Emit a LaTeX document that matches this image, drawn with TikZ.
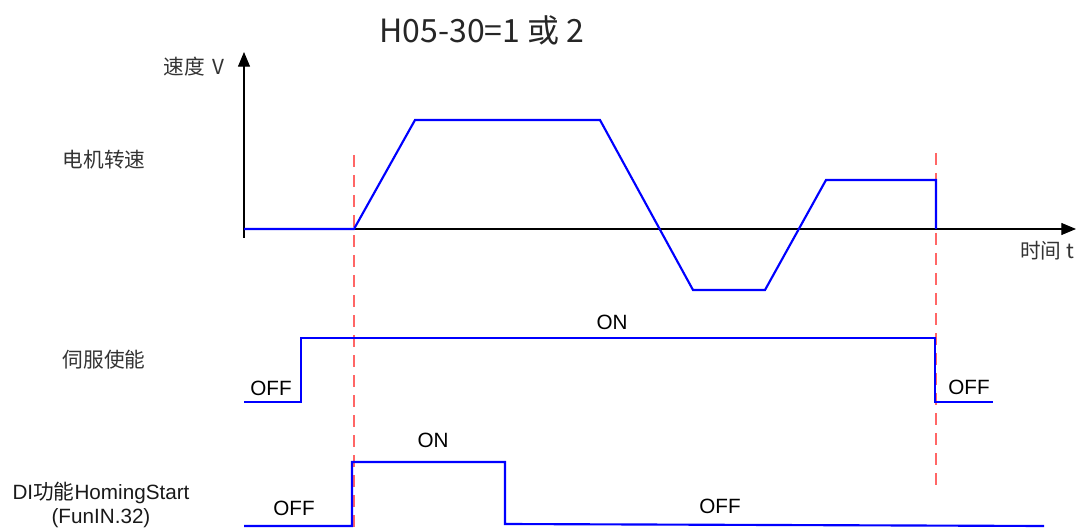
\documentclass[tikz,border=0pt]{standalone}
\usepackage{fontspec}
\setmainfont{Liberation Sans}
\newfontfamily\cjk{Noto Sans CJK SC}
\usetikzlibrary{arrows.meta}
\begin{document}
\begin{tikzpicture}[x=0.75pt,y=-0.75pt,
  sig/.style={draw=blue,line width=1.6pt,line join=miter},
  axisline/.style={draw=black,line width=0.8pt},
  guide/.style={draw=red!60,line width=0.9pt,dash pattern=on 9pt off 6pt},
  lbl/.style={font=\cjk\fontsize{15.5}{18}\selectfont,text=black!80,inner sep=0pt},
  st/.style={font=\fontsize{15.5}{18}\selectfont,inner sep=0pt}]
\useasboundingbox (0,0) rectangle (1079,531);
% title
\node[font=\cjk\fontsize{24}{28}\selectfont,text=black!85,inner sep=0pt] (title) at (482,30) {H05-30=1 或 2};
% axes
\coordinate (ybot) at (244,238);
\coordinate (ytop) at (244,52);
\coordinate (xl) at (244,229);
\coordinate (xr) at (1076,229);
\draw[axisline,-{Triangle[length=11pt,width=9pt]}] (ybot) -- (ytop);
\draw[axisline,-{Triangle[length=11pt,width=9pt]}] (xl) -- (xr);
\node[lbl] (vlab) at (194,67) {速度\ \,V};
\node[lbl] (tlab) at (1047,251) {时间\ t};
% row labels
\node[lbl] (r1) at (104,160) {电机转速};
\node[lbl] (r2) at (104,360) {伺服使能};
\node[st,align=center,text=black!90] (r3) at (101,505) {DI{\cjk 功能}HomingStart\\[0pt](FunIN.32)};
% guides
\coordinate (g1t) at (354,155); \coordinate (g1b) at (354,531);
\coordinate (g2t) at (936,153); \coordinate (g2b) at (936,490);
\draw[guide] (g1t) -- (g1b);
\draw[guide] (g2t) -- (g2b);
% speed
\draw[sig] (244,229) -- (354,229) -- (415,120) -- (600,120) -- (693,290) -- (765,290) -- (826,180) -- (936,180) -- (936,229);
% servo enable
\draw[sig] (244,402) -- (301,402) -- (301,338) -- (935,338) -- (935,402) -- (993,402);
\node[st] (on1) at (612,322) {ON};
\node[st] (off1) at (271,388) {OFF};
\node[st] (off2) at (969,387) {OFF};
% DI
\draw[sig] (244,526) -- (352,526) -- (352,462) -- (505,462) -- (505,524) -- (1044,526);
\node[st] (on2) at (433,440) {ON};
\node[st] (off3) at (294,508) {OFF};
\node[st] (off4) at (720,506) {OFF};
\end{tikzpicture}
\end{document}
